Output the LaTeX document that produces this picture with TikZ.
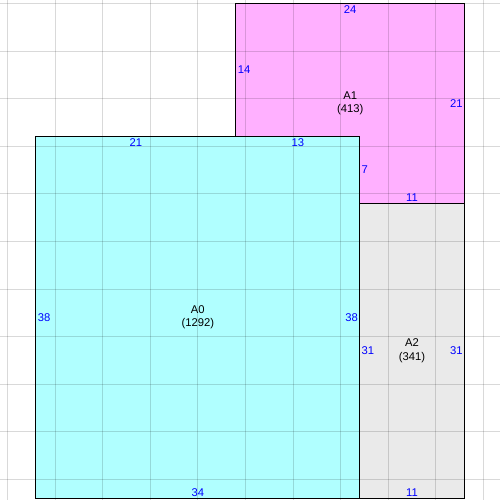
\documentclass[tikz,border=0pt]{standalone}
\usepackage{fontspec}
\setmainfont{Liberation Sans}
\usepackage{xcolor}
\usepackage{tikz}
\usetikzlibrary{positioning}

\definecolor{roomcyan}{RGB}{176,255,255}
\definecolor{roompink}{RGB}{255,176,255}
\definecolor{roomgray}{RGB}{234,234,234}

\begin{document}
\begin{tikzpicture}[x=0.25cm, y=0.25cm,
    room/.style={draw=black, line width=0.75pt},
    gridline/.style={draw=black, draw opacity=0.15, line width=0.6pt},
    area/.style={align=center, text=black, font=\fontsize{8.4}{10}\selectfont},
    len/.style={text=blue, inner sep=1.2pt, font=\fontsize{8.4}{10}\selectfont}]
    \useasboundingbox (-0.78,-0.17) rectangle (51.74,52.35);

    % Room fills (A0 lies over A1)
    \fill[roompink] (24,31) rectangle (48,52);
    \fill[roomgray] (37,0) rectangle (48,31);
    \fill[roomcyan] (3,0) rectangle (37,38);

    % Grid every 5 units
    \foreach \x in {0,5,...,50} {
        \draw[gridline] (\x,-0.17) -- (\x,52.35);
    }
    \foreach \y in {2,7,...,52} {
        \draw[gridline] (-0.78,\y) -- (51.74,\y);
    }

    % Room outlines (A1 hidden under A0)
    \draw[room] (24,38) -- (24,52) -- (48,52) -- (48,31) -- (37,31);
    \draw[room] (37,0) rectangle (48,31);
    \draw[room] (3,0) rectangle (37,38);

    % Room A1
    \node[area] (a1) at (36,41.5) {A1\\(413)};
    \node[len, anchor=north] (a1top) at (36,52) {24};
    \node[len, anchor=west] (a1left) at (24,45) {14};
    \node[len, anchor=east] (a1right) at (48,41.5) {21};
    \node[len, anchor=south] (a1bot) at (42.5,31) {11};
    \node[len, anchor=west] (a1in) at (37,34.5) {7};

    % Room A0
    \node[area] (a0) at (20,19) {A0\\(1292)};
    \node[len, anchor=north] (a0top) at (13.5,38) {21};
    \node[len, anchor=north] (a0topr) at (30.5,38) {13};
    \node[len, anchor=west] (a0left) at (3,19) {38};
    \node[len, anchor=east] (a0right) at (37,19) {38};
    \node[len, anchor=south] (a0bot) at (20,0) {34};

    % Room A2
    \node[area] (a2) at (42.5,15.5) {A2\\(341)};
    \node[len, anchor=west] (a2left) at (37,15.5) {31};
    \node[len, anchor=east] (a2right) at (48,15.5) {31};
    \node[len, anchor=south] (a2bot) at (42.5,0) {11};
\end{tikzpicture}
\end{document}
